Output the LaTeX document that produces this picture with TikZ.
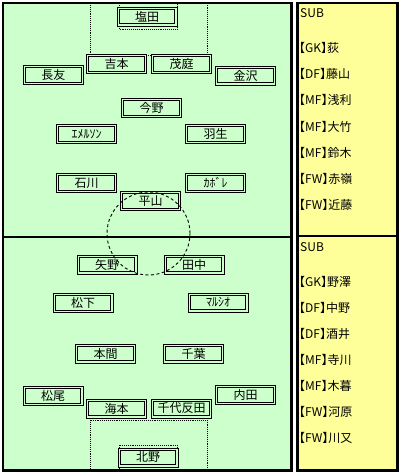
\documentclass[tikz,border=0pt]{standalone}
\usepackage{fontspec}
\setmainfont{Noto Sans CJK JP}
\newfontfamily\subfont{Noto Sans CJK JP}[RawFeature=+halt]
\usepackage{tikz}
\usetikzlibrary{positioning}
\definecolor{pitchgreen}{HTML}{CCFFCC}
\definecolor{subyellow}{HTML}{FFFF99}

\begin{document}
\begin{tikzpicture}[x=1pt, y=-1pt,
  player/.style={draw=black, line width=1pt, double=pitchgreen, double distance=1.4pt,
    fill=pitchgreen, minimum width=57.6pt, minimum height=16.6pt, inner sep=0pt,
    font=\fontsize{12}{14}\selectfont},
  subtext/.style={anchor=west, inner sep=0pt, font=\subfont\fontsize{12}{14}\selectfont},
  arealine/.style={densely dotted, line width=0.9pt},
  circleline/.style={dash pattern=on 3pt off 2.5pt, line width=0.9pt}]
  \useasboundingbox (0,0) rectangle (400,474);
  \fill[white] (0,0) rectangle (400,474);
  % pitch
  \draw[line width=2.8pt, fill=pitchgreen] (3,3) rectangle (291.5,470.5);
  % penalty and goal areas
  \draw[arealine] (90,3) |- (207,55) -- (207,3);
  \draw[arealine] (119,3) |- (177.5,29) -- (177.5,3);
  \draw[arealine] (90,470.5) |- (207,420) -- (207,470.5);
  \draw[arealine] (119,470.5) |- (177.5,445) -- (177.5,470.5);
  % halfway line
  \draw[line width=2pt] (3,237) -- (291.5,237);
  % top team
  \foreach \n/\px/\py/\nm in {1/147/16.5/塩田, 2/116.5/64/吉本, 3/181.5/64/茂庭,
      4/53.5/75/長友, 5/245.5/75.5/金沢, 6/151.5/108/今野, 7/86.5/134/ｴﾒﾙｿﾝ,
      8/215.5/134/羽生, 9/86.5/183/石川, 10/215.5/183/ｶﾎﾞﾚ, 11/150.5/201/平山}{
    \node[player] (t\n) at (\px,\py) {\nm};
  }
  % bottom team
  \foreach \n/\px/\py/\nm in {1/107/264.5/矢野, 2/194/264.5/田中, 3/83/303/松下,
      4/218/302.5/ﾏﾙｼｵ, 5/105.5/353.5/本間, 6/193.5/353.5/千葉, 7/53/396/松尾,
      8/245.5/395/内田, 9/116.5/408.5/海本, 10/181.5/408.5/千代反田, 11/148/457.5/北野}{
    \node[player] (b\n) at (\px,\py) {\nm};
  }
  % centre circle (drawn over the boxes)
  \draw[circleline] (148.5,233.5) circle (41.5pt);
  % substitutes
  \draw[line width=2.5pt, fill=subyellow] (297.5,3) rectangle (397.5,470.5);
  \draw[line width=2pt] (297.5,236) -- (397.5,236);
  \node[subtext] (ts0) at (300,13) {SUB};
  \foreach \nm [count=\i] in {【GK】荻, 【DF】藤山, 【MF】浅利, 【MF】大竹,
      【MF】鈴木, 【FW】赤嶺, 【FW】近藤}{
    \node[subtext] (ts\i) at (299,{48+26.2*(\i-1)}) {\nm};
  }
  \node[subtext] (bs0) at (300,247) {SUB};
  \foreach \nm [count=\i] in {【GK】野澤, 【DF】中野, 【DF】酒井, 【MF】寺川,
      【MF】木暮, 【FW】河原, 【FW】川又}{
    \node[subtext] (bs\i) at (299,{282+26*(\i-1)}) {\nm};
  }
\end{tikzpicture}
\end{document}
